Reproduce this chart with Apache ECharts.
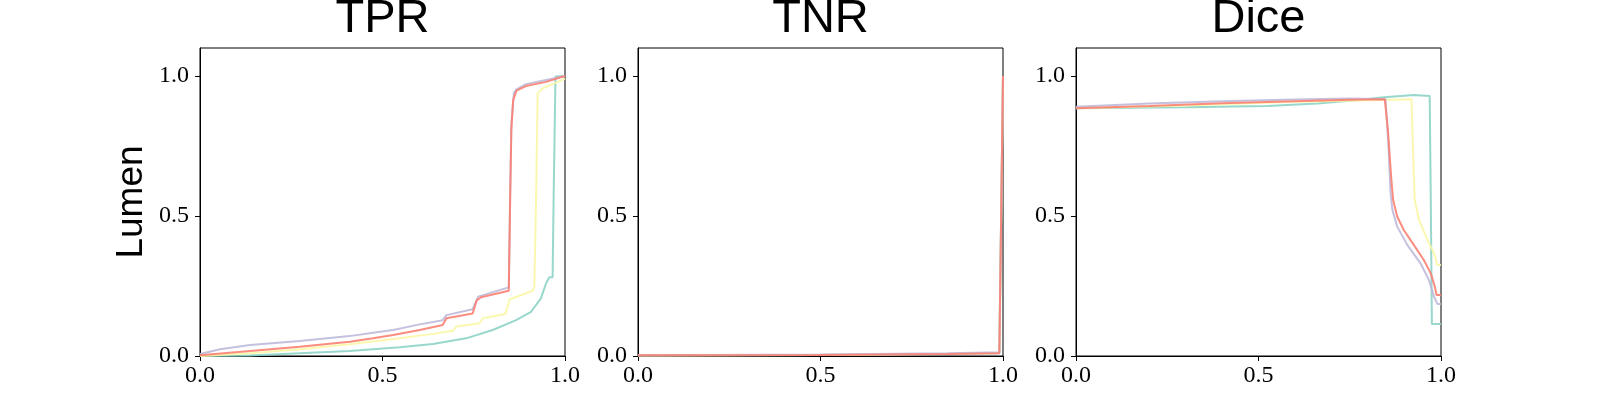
<!DOCTYPE html>
<html>
<head>
<meta charset="utf-8">
<script src="https://cdn.jsdelivr.net/npm/echarts@6/dist/echarts.min.js"></script>
<style>
  html, body { margin: 0; padding: 0; background: #fff; }
  #chart { width: 1600px; height: 400px; }
</style>
</head>
<body>
<div id="chart"></div>
<script>
// panel titles, y label and ticks
const panelTitles = ['TPR', 'TNR', 'Dice']
const yLabel = 'Lumen'
const tickValues = [0, 0.5, 1]
const seriesNames = ['s1', 's2', 's3', 's4']
const colors = ['#8dd3c7', '#f9f7a6', '#bebada', '#fb8072']

// TPR curves [x, y]
const tprTeal = [[0, 0], [0.137, 0.002], [0.273, 0.01], [0.41, 0.018], [0.547, 0.031], [0.638, 0.043],
  [0.729, 0.063], [0.802, 0.093], [0.866, 0.128], [0.907, 0.158], [0.934, 0.206], [0.948, 0.259],
  [0.957, 0.281], [0.966, 0.281], [0.969, 0.581], [0.974, 0.998], [1, 1]]
const tprYellow = [[0, 0], [0.137, 0.01], [0.273, 0.024], [0.41, 0.042], [0.547, 0.063], [0.638, 0.079],
  [0.693, 0.09], [0.702, 0.105], [0.766, 0.117], [0.775, 0.135], [0.837, 0.15], [0.848, 0.202],
  [0.911, 0.233], [0.916, 0.248], [0.921, 0.581], [0.925, 0.938], [0.939, 0.956], [0.993, 0.986], [1, 0.99]]
const tprLavender = [[0, 0.007], [0.055, 0.024], [0.137, 0.039], [0.273, 0.054], [0.41, 0.071], [0.474, 0.083],
  [0.529, 0.093], [0.602, 0.113], [0.665, 0.128], [0.675, 0.146], [0.747, 0.167], [0.762, 0.212],
  [0.846, 0.245], [0.85, 0.6], [0.853, 0.83], [0.86, 0.94], [0.867, 0.952], [0.893, 0.971], [0.948, 0.986], [1, 1]]
const tprRed = [[0, 0.003], [0.137, 0.018], [0.273, 0.033], [0.41, 0.051], [0.474, 0.063], [0.529, 0.075],
  [0.602, 0.093], [0.665, 0.111], [0.675, 0.135], [0.747, 0.152], [0.758, 0.198], [0.77, 0.21],
  [0.846, 0.233], [0.85, 0.581], [0.853, 0.807], [0.858, 0.914], [0.867, 0.948], [0.893, 0.964], [0.948, 0.979], [1, 1]]

// TNR curves
const tnrTeal = [[0, 0.002], [0.5, 0.004], [0.85, 0.007], [0.99, 0.01], [1, 1]]
const tnrYellow = [[0, 0.002], [0.5, 0.004], [0.85, 0.008], [0.99, 0.011], [1, 1]]
const tnrLavender = [[0, 0.003], [0.5, 0.005], [0.85, 0.01], [0.99, 0.013], [1, 1]]
const tnrRed = [[0, 0.003], [0.5, 0.004], [0.85, 0.007], [0.99, 0.01], [1, 1]]

// Dice curves
const diceTeal = [[0, 0.885], [0.3, 0.888], [0.524, 0.893], [0.661, 0.902], [0.752, 0.912], [0.844, 0.924],
  [0.926, 0.932], [0.969, 0.929], [0.972, 0.557], [0.975, 0.114], [1, 0.114]]
const diceYellow = [[0, 0.885], [0.3, 0.895], [0.6, 0.908], [0.752, 0.912], [0.919, 0.917], [0.926, 0.629],
  [0.928, 0.557], [0.94, 0.486], [0.963, 0.414], [0.981, 0.367], [0.99, 0.325], [1, 0.325]]
const diceLavender = [[0, 0.89], [0.2, 0.902], [0.4, 0.91], [0.6, 0.916], [0.75, 0.92], [0.848, 0.917],
  [0.856, 0.75], [0.862, 0.58], [0.867, 0.521], [0.88, 0.462], [0.908, 0.396], [0.944, 0.331],
  [0.967, 0.271], [0.981, 0.212], [0.99, 0.186], [1, 0.186]]
const diceRed = [[0, 0.885], [0.2, 0.893], [0.4, 0.903], [0.6, 0.91], [0.75, 0.915], [0.846, 0.917],
  [0.855, 0.8], [0.864, 0.629], [0.869, 0.557], [0.88, 0.498], [0.898, 0.45], [0.926, 0.396],
  [0.953, 0.343], [0.972, 0.295], [0.983, 0.248], [0.988, 0.218], [1, 0.218]]

const panels = [
  [tprTeal, tprYellow, tprLavender, tprRed],
  [tnrTeal, tnrYellow, tnrLavender, tnrRed],
  [diceTeal, diceYellow, diceLavender, diceRed],
]

const gridLefts = [200, 638, 1076]
const gridWidth = 365
const gridTop = 48
const gridHeight = 308

const serif = '"Liberation Serif", "DejaVu Serif", serif'
const sans = '"Liberation Sans", "DejaVu Sans", sans-serif'
const fmt = v => v.toFixed(1)

const chart = echarts.init(document.getElementById('chart'), null, {renderer: 'canvas'})

const option = {
  animation: false,
  backgroundColor: '#fff',
  title: panelTitles.map((t, i) => ({
    text: t,
    left: gridLefts[i] + gridWidth / 2,
    top: -4,
    padding: 0,
    textAlign: 'center',
    textStyle: {fontFamily: sans, fontSize: 47, fontWeight: 'normal', color: '#000'},
  })),
  grid: gridLefts.map(l => ({
    left: l, top: gridTop, width: gridWidth, height: gridHeight,
    show: true, borderColor: '#000', borderWidth: 1, backgroundColor: 'transparent',
  })),
  xAxis: gridLefts.map((l, i) => ({
    type: 'value', gridIndex: i, min: 0, max: 1, interval: 0.5,
    axisLine: {show: true, lineStyle: {color: '#000', width: 1}},
    axisTick: {show: true, length: 5, lineStyle: {color: '#000', width: 1}},
    axisLabel: {
      formatter: fmt, fontFamily: serif, fontSize: 24, color: '#000', margin: 8,
      showMinLabel: true, showMaxLabel: true, hideOverlap: false,
    },
    splitLine: {show: false},
  })),
  yAxis: gridLefts.map((l, i) => ({
    type: 'value', gridIndex: i, min: 0, max: 1.1,
    name: i === 0 ? yLabel : '',
    nameLocation: 'middle',
    nameGap: 50,
    nameTextStyle: {fontFamily: sans, fontSize: 37, color: '#000'},
    axisLine: {show: true, lineStyle: {color: '#000', width: 1}},
    axisTick: {show: true, length: 5, customValues: tickValues, lineStyle: {color: '#000', width: 1}},
    axisLabel: {formatter: fmt, customValues: tickValues, fontFamily: serif, fontSize: 24, color: '#000', margin: 11},
    splitLine: {show: false},
  })),
  series: [],
}

panels.forEach((curves, i) => {
  curves.forEach((data, j) => {
    option.series.push({
      type: 'line',
      name: seriesNames[j],
      xAxisIndex: i,
      yAxisIndex: i,
      data: data,
      showSymbol: false,
      symbol: 'none',
      lineStyle: {color: colors[j], width: 2, opacity: 0.9},
      z: 2 + j,
    })
  })
})

chart.setOption(option)
</script>
</body>
</html>
